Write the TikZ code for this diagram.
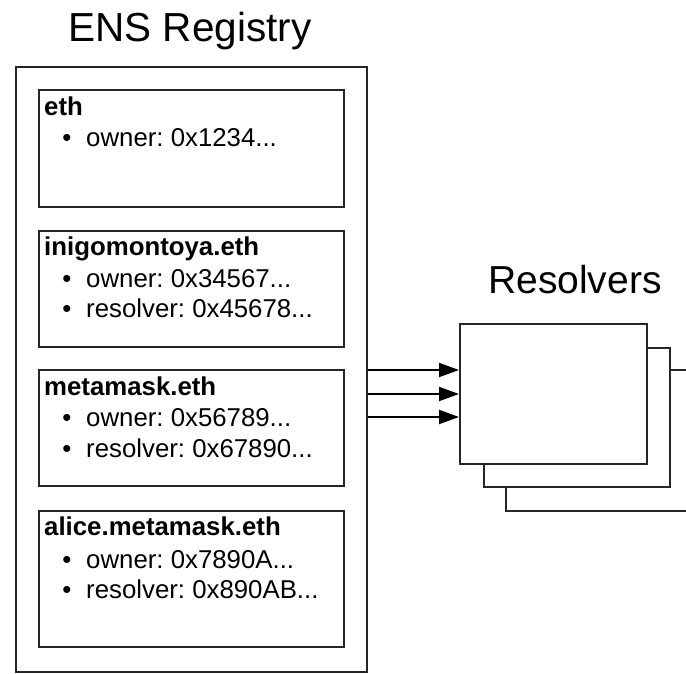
\documentclass[tikz,border=0pt]{standalone}
\usepackage{fontspec}
\setmainfont{Liberation Sans}
\usetikzlibrary{arrows.meta,calc}
\frenchspacing
\begin{document}
\begin{tikzpicture}[x=1pt,y=-1pt,
  box/.style={draw=black!85,line width=2pt,fill=white,rectangle,inner sep=0pt,anchor=north west},
  ttl/.style={font=\fontsize{39}{45}\selectfont,anchor=base},
  head/.style={font=\fontsize{25.8}{30}\selectfont\bfseries,anchor=base west,inner sep=0pt},
  itm/.style={font=\fontsize{25.8}{30}\selectfont,anchor=base west,inner sep=0pt},
  bul/.style={font=\fontsize{25.8}{30}\selectfont,anchor=base,inner sep=0pt},
  arr/.style={line width=2pt,-{Triangle[length=20pt,width=14pt]}}]
\useasboundingbox (0,0) rectangle (686,673);
\clip (0,0) rectangle (686,673);
\fill[white] (0,0) rectangle (686,673);
% titles
\node[ttl,font=\fontsize{40.5}{46}\selectfont] (t1) at (190,41) {ENS Registry};
\node[ttl] (t2) at (575,293) {Resolvers};
% registry
\node[box,minimum width=351pt,minimum height=605pt] (reg) at (15,66) {};
% entries
\node[box,minimum width=305pt,minimum height=117pt] (e1) at (38,89) {};
\node[box,minimum width=305pt,minimum height=116pt] (e2) at (38,230) {};
\node[box,minimum width=305pt,minimum height=116pt] (e3) at (38,369) {};
\node[box,minimum width=305pt,minimum height=136pt] (e4) at (38,510) {};
% entry texts
\node[head] (h1) at (44,115) {eth};
\node[bul] (b11) at (67,146) {•};
\node[itm] (i11) at (86,146) {owner: 0x1234...};

\node[head] (h2) at (44,255) {inigomontoya.eth};
\node[bul] (b21) at (67,287) {•};
\node[itm] (i21) at (86,287) {owner: 0x34567...};
\node[bul] (b22) at (67,317) {•};
\node[itm] (i22) at (86,317) {resolver: 0x45678...};

\node[head] (h3) at (44,395) {metamask.eth};
\node[bul] (b31) at (67,426) {•};
\node[itm] (i31) at (86,426) {owner: 0x56789...};
\node[bul] (b32) at (67,457) {•};
\node[itm] (i32) at (86,457) {resolver: 0x67890...};

\node[head] (h4) at (44,535) {alice.metamask.eth};
\node[bul] (b41) at (67,568) {•};
\node[itm] (i41) at (86,568) {owner: 0x7890A...};
\node[bul] (b42) at (67,598) {•};
\node[itm] (i42) at (86,598) {resolver: 0x890AB...};
% resolvers stack
\node[box,minimum width=200pt,minimum height=141pt] (r3) at (505,369) {};
\node[box,minimum width=186pt,minimum height=139pt] (r2) at (483,347) {};
\node[box,minimum width=187pt,minimum height=140pt] (r1) at (459,323) {};
% arrows
\coordinate (p1) at ([yshift=24pt]r1.west);
\coordinate (p2) at (r1.west);
\coordinate (p3) at ([yshift=-23pt]r1.west);
\draw[arr] (reg.east |- p1) -- (p1);
\draw[arr] (reg.east |- p2) -- (p2);
\draw[arr] (reg.east |- p3) -- (p3);
\end{tikzpicture}
\end{document}
